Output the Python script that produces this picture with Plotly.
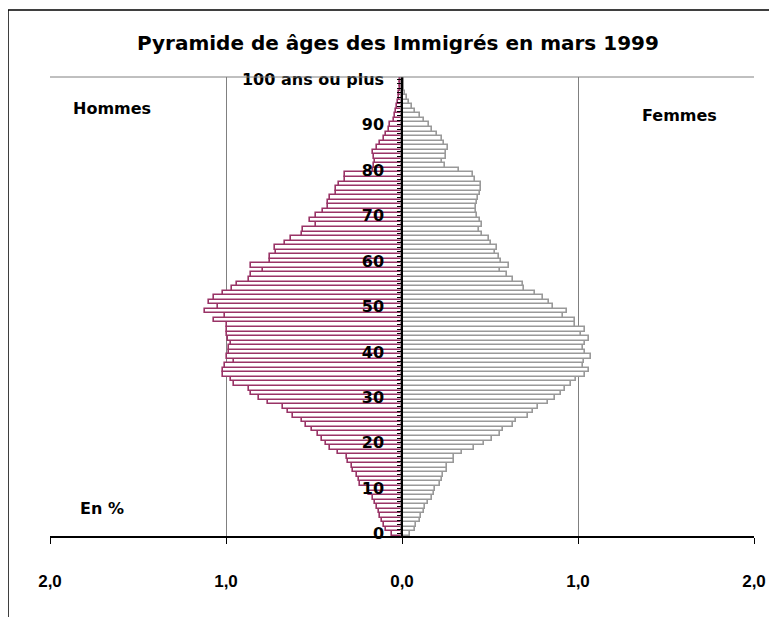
import plotly.graph_objects as go

ages = list(range(101))
age_labels = ["0", "10", "20", "30", "40", "50", "60", "70", "80", "90", "100 ans ou plus"]
x_tick_labels = ["2,0", "1,0", "0,0", "1,0", "2,0"]

hommes = [
    0.057, 0.09, 0.10, 0.112, 0.124, 0.133, 0.141, 0.156, 0.166, 0.185,
    0.19, 0.238, 0.244, 0.257, 0.276, 0.286, 0.305, 0.31, 0.362, 0.41,
    0.432, 0.457, 0.476, 0.514, 0.547, 0.571, 0.619, 0.648, 0.676, 0.762,
    0.81, 0.857, 0.867, 0.952, 0.971, 1.015, 1.019, 1.004, 0.952, 0.996,
    0.981, 0.981, 0.971, 0.99, 0.996, 0.996, 0.996, 1.067, 1.004, 1.118,
    1.048, 1.099, 1.067, 1.019, 0.966, 0.939, 0.87, 0.857, 0.79, 0.857,
    0.752, 0.752, 0.714, 0.724, 0.667, 0.629, 0.571, 0.562, 0.49, 0.524,
    0.49, 0.448, 0.419, 0.419, 0.41, 0.375, 0.375, 0.356, 0.324, 0.324,
    0.162, 0.16, 0.155, 0.16, 0.162, 0.143, 0.124, 0.105, 0.09, 0.076,
    0.067, 0.048, 0.038, 0.032, 0.029, 0.023, 0.019, 0.015, 0.012, 0.01,
    0.01,
]

femmes = [
    0.048, 0.076, 0.082, 0.10, 0.109, 0.124, 0.13, 0.149, 0.171, 0.181,
    0.19, 0.215, 0.229, 0.234, 0.253, 0.257, 0.295, 0.295, 0.343, 0.41,
    0.467, 0.514, 0.558, 0.571, 0.629, 0.648, 0.714, 0.743, 0.775, 0.832,
    0.87, 0.905, 0.924, 0.962, 0.99, 1.038, 1.061, 1.029, 1.034, 1.076,
    1.038, 1.029, 1.038, 1.061, 1.019, 1.038, 0.981, 0.985, 0.914, 0.939,
    0.857, 0.838, 0.8, 0.756, 0.695, 0.686, 0.629, 0.596, 0.558, 0.61,
    0.562, 0.552, 0.528, 0.539, 0.505, 0.495, 0.457, 0.438, 0.457, 0.444,
    0.425, 0.419, 0.419, 0.425, 0.429, 0.444, 0.448, 0.448, 0.413, 0.406,
    0.324, 0.242, 0.229, 0.248, 0.248, 0.261, 0.238, 0.229, 0.196, 0.171,
    0.152, 0.124, 0.101, 0.076, 0.057, 0.038, 0.029, 0.019, 0.013, 0.01,
    0.01,
]

OFF = 8  # page offset of the figure inside the browser window
W, H = 777 - OFF, 617 - OFF
L, R, T, B = 50 - OFF, 754 - OFF, 77 - OFF, 536 - OFF  # plot area in figure pixels


def px(xp):
    return (xp - OFF - L) / (R - L)


def py(yp):
    return (B - (yp - OFF)) / (B - T)


fig = go.Figure()
fig.add_trace(go.Bar(
    y=ages, x=[-v for v in hommes], orientation="h", name="Hommes",
    marker=dict(color="white", line=dict(color="#993366", width=1.6)),
    showlegend=False,
))
fig.add_trace(go.Bar(
    y=ages, x=femmes, orientation="h", name="Femmes",
    marker=dict(color="white", line=dict(color="#999999", width=1.6)),
    showlegend=False,
))

ytext = []
for a in ages:
    if a % 10 == 0:
        ytext.append(age_labels[a // 10])
    else:
        ytext.append("")

fig.update_layout(
    width=W, height=H,
    margin=dict(l=L, r=W - R, t=T, b=H - B),
    paper_bgcolor="white", plot_bgcolor="white",
    barmode="overlay", bargap=0,
    font=dict(family="Liberation Sans, Arial", size=14, color="black"),
    xaxis=dict(
        range=[-2, 2], tickvals=[-2, -1, 0, 1, 2], ticktext=x_tick_labels,
        showgrid=True, gridcolor="#808080", gridwidth=1, zeroline=False,
        showline=True, linecolor="black", linewidth=1.5,
        ticks="outside", ticklen=6, tickcolor="black", tickwidth=1,
        tickfont=dict(family="Liberation Sans, Arial", size=17, weight="bold"),
        ticklabelstandoff=23,
    ),
    yaxis=dict(
        range=[-0.5, 100.5], tickmode="array", tickvals=ages, ticktext=ytext,
        anchor="free", position=0.5, showgrid=False, zeroline=False,
        showline=True, linecolor="black", linewidth=1.5,
        ticks="outside", ticklen=4, tickcolor="black", tickwidth=1,
        tickfont=dict(family="DejaVu Sans", size=16, weight="bold"),
        ticklabelstandoff=10,
    ),
    shapes=[
        dict(type="line", xref="paper", yref="paper", x0=0, x1=1, y0=1, y1=1,
             line=dict(color="#808080", width=1)),
        dict(type="rect", xref="paper", yref="paper",
             x0=px(8), x1=px(800), y0=py(10), y1=py(650),
             line=dict(color="black", width=1.5)),
    ],
    annotations=[
        dict(text="<b>Pyramide de âges des Immigrés en mars 1999</b>", xref="paper", yref="paper",
             x=px(397.5), y=py(43), showarrow=False, xanchor="center", yanchor="middle",
             font=dict(family="DejaVu Sans", size=20)),
        dict(text="<b>Hommes</b>", xref="paper", yref="paper", x=px(112), y=py(108),
             showarrow=False, xanchor="center", yanchor="middle",
             font=dict(family="DejaVu Sans", size=16)),
        dict(text="<b>Femmes</b>", xref="paper", yref="paper", x=px(679), y=py(115),
             showarrow=False, xanchor="center", yanchor="middle",
             font=dict(family="DejaVu Sans", size=16)),
        dict(text="<b>En %</b>", xref="paper", yref="paper", x=px(102), y=py(508),
             showarrow=False, xanchor="center", yanchor="middle",
             font=dict(family="DejaVu Sans", size=16)),
    ],
)

fig.write_html("out.html")
